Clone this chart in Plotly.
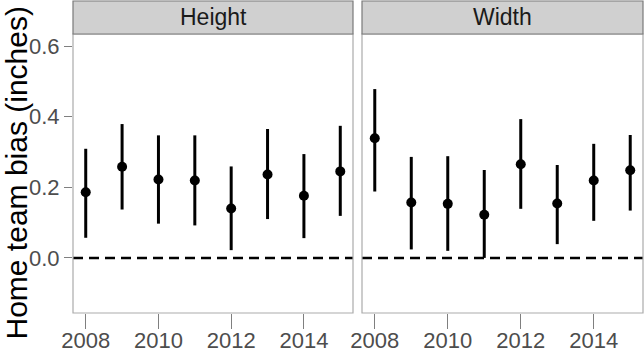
import plotly.graph_objects as go

years = [2008, 2009, 2010, 2011, 2012, 2013, 2014, 2015]
panels = ["Height", "Width"]

height_est = [0.186, 0.258, 0.222, 0.219, 0.140, 0.236, 0.176, 0.245]
height_lo = [0.057, 0.137, 0.097, 0.092, 0.022, 0.110, 0.056, 0.119]
height_hi = [0.309, 0.379, 0.347, 0.347, 0.259, 0.365, 0.294, 0.374]

width_est = [0.339, 0.157, 0.153, 0.122, 0.265, 0.154, 0.219, 0.248]
width_lo = [0.188, 0.024, 0.020, 0.000, 0.139, 0.039, 0.105, 0.134]
width_hi = [0.478, 0.286, 0.288, 0.249, 0.393, 0.263, 0.323, 0.348]

y_ticks = [0.0, 0.2, 0.4, 0.6]
x_ticks = [2008, 2010, 2012, 2014]

W, H = 644, 352
dom_x = [(73 / W, 353 / W), (362 / W, 643 / W)]
dom_y = (39 / H, 318 / H)
strip_top = 351 / H

fig = go.Figure()
series = [(height_est, height_lo, height_hi), (width_est, width_lo, width_hi)]
for i, (est, lo, hi) in enumerate(series):
    xa = "x" if i == 0 else "x2"
    ya = "y" if i == 0 else "y2"
    fig.add_trace(go.Scatter(
        x=years, y=est, mode="markers", xaxis=xa, yaxis=ya,
        marker=dict(color="black", size=10),
        error_y=dict(type="data", symmetric=False,
                     array=[h - e for h, e in zip(hi, est)],
                     arrayminus=[e - l for e, l in zip(est, lo)],
                     color="black", thickness=3, width=0),
        showlegend=False, cliponaxis=False, hoverinfo="skip",
    ))

axis_common = dict(range=[2007.65, 2015.35], tickvals=x_ticks, ticks="outside",
                   ticklen=15, tickwidth=1.3, tickcolor="#7F7F7F", automargin=False,
                   ticklabelstandoff=-7,
                   showgrid=False, zeroline=False, showline=False,
                   tickfont=dict(family="Liberation Sans, Arial", size=22, color="#4D4D4D"))
yaxis_common = dict(range=[-0.156, 0.634], showgrid=False, zeroline=False, showline=False,
                    automargin=False)

fig.update_layout(
    width=W, height=H, margin=dict(l=0, r=0, t=0, b=0, autoexpand=False),
    paper_bgcolor="white", plot_bgcolor="white",
    xaxis=dict(domain=dom_x[0], anchor="y", **axis_common),
    xaxis2=dict(domain=dom_x[1], anchor="y2", **axis_common),
    yaxis=dict(domain=dom_y, anchor="x", tickvals=y_ticks, tickformat=".1f",
               ticks="outside", ticklen=8, tickwidth=1.3, tickcolor="#7F7F7F",
               tickfont=dict(family="Liberation Sans, Arial", size=22, color="#4D4D4D"),
               **yaxis_common),
    yaxis2=dict(domain=dom_y, anchor="x2", showticklabels=False, ticks="",
                matches="y", **yaxis_common),
)

shapes = []
annotations = []
for i, name in enumerate(panels):
    xr = "x domain" if i == 0 else "x2 domain"
    yr = "y" if i == 0 else "y2"
    yd = "y domain" if i == 0 else "y2 domain"
    shapes.append(dict(type="line", xref=xr, yref=yr, x0=0, x1=1, y0=0, y1=0,
                       line=dict(color="black", width=2.5, dash="10px,6px"), layer="below"))
    shapes.append(dict(type="rect", xref=xr, yref=yd, x0=0, x1=1, y0=0, y1=1,
                       line=dict(color="#ABABAB", width=1.2), fillcolor="rgba(0,0,0,0)"))
    shapes.append(dict(type="rect", xref=xr, yref="paper", x0=0, x1=1,
                       y0=dom_y[1], y1=strip_top,
                       line=dict(color="#7A7A7A", width=1.2), fillcolor="#D0D0D0"))
    annotations.append(dict(text=name, xref=xr, yref="paper", x=0.5,
                            y=(dom_y[1] + strip_top) / 2, xanchor="center", yanchor="middle",
                            showarrow=False,
                            font=dict(family="Liberation Sans, Arial", size=23, color="#1A1A1A")))

annotations.append(dict(text="Home team bias (inches)", xref="paper", yref="paper",
                        x=16 / W, y=(dom_y[0] + dom_y[1]) / 2, xanchor="center",
                        yanchor="middle", textangle=-90, showarrow=False,
                        font=dict(family="Liberation Sans, Arial", size=30, color="black")))

fig.update_layout(shapes=shapes, annotations=annotations)
fig.write_html("out.html", config={"displayModeBar": False},
               post_script="document.body.style.margin='0';document.body.style.overflow='hidden';")
